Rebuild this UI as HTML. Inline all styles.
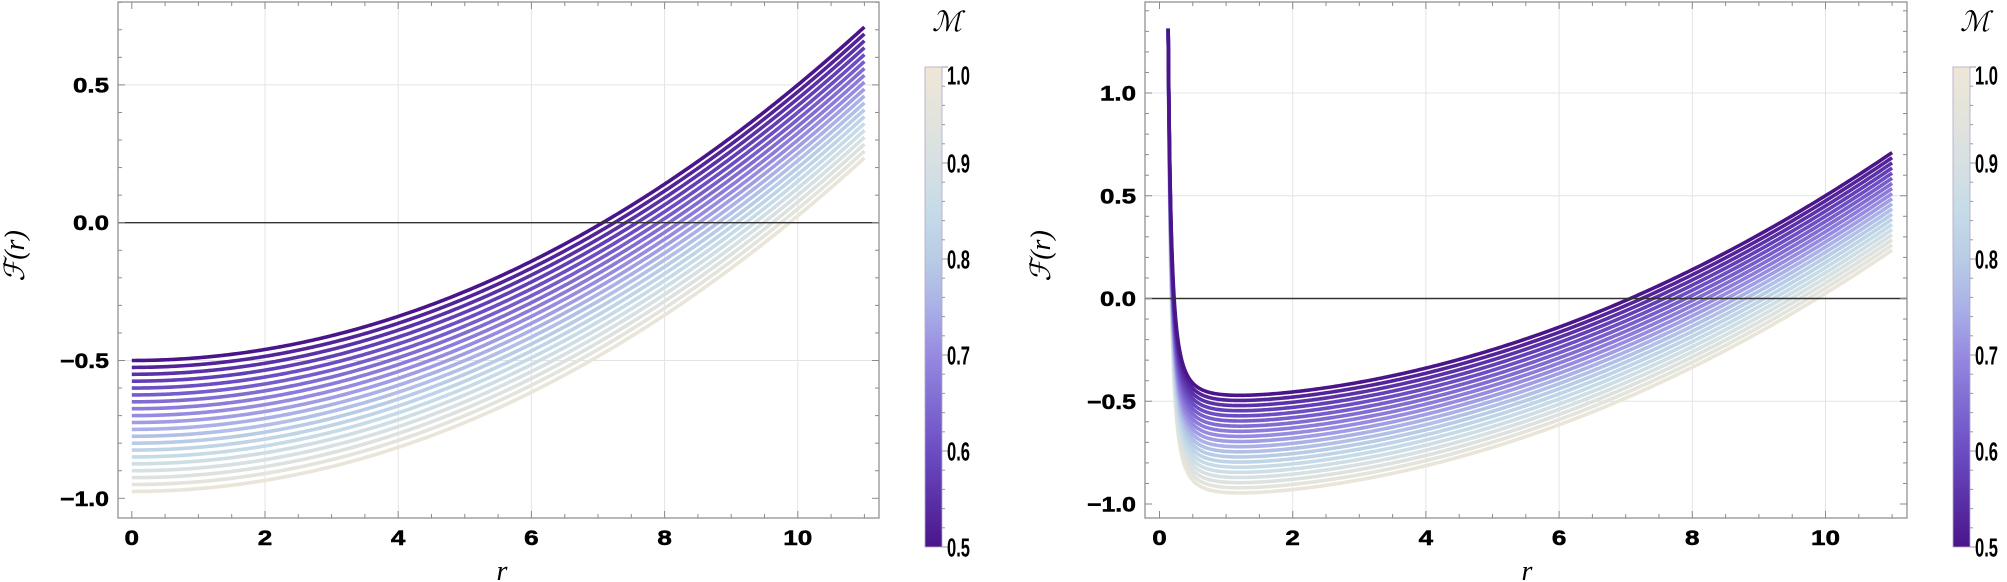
<!DOCTYPE html>
<html><head><meta charset="utf-8">
<style>
html,body{margin:0;padding:0;background:#fff;}
svg{display:block;}
.tl{font-family:"Liberation Sans",sans-serif;font-weight:bold;font-size:21px;fill:#000;stroke:#000;stroke-width:0.5;}
.cb{font-family:"Liberation Sans",sans-serif;font-weight:bold;font-size:26px;fill:#000;}
.ti{font-family:"Liberation Serif","DejaVu Serif",serif;font-style:italic;font-size:28px;fill:#000;}
</style></head>
<body>
<svg id="s" width="2007" height="582" xmlns="http://www.w3.org/2000/svg">
<defs>
<clipPath id="c1"><rect x="118" y="2" width="761" height="516"/></clipPath>
<clipPath id="c2"><rect x="1145" y="2" width="762" height="516"/></clipPath>
<linearGradient id="g" x1="0" y1="1" x2="0" y2="0">
<stop offset="0" stop-color="#4a158b"/>
<stop offset="0.2" stop-color="#6c4dc3"/>
<stop offset="0.4" stop-color="#968ae1"/>
<stop offset="0.5" stop-color="#aab1e7"/>
<stop offset="0.6" stop-color="#b9cce6"/>
<stop offset="0.7" stop-color="#c6dbe8"/>
<stop offset="0.8" stop-color="#d7e0e2"/>
<stop offset="1" stop-color="#efe7d6"/>
</linearGradient>
</defs>
</svg>
<script>
(function(){
var S=document.getElementById('s'),NS='http://www.w3.org/2000/svg';
function el(t,a,txt){var e=document.createElementNS(NS,t);for(var k in a)e.setAttribute(k,a[k]);if(txt!=null)e.textContent=txt;S.appendChild(e);return e;}
var stops=[[0,[74,21,139]],[0.2,[108,77,195]],[0.4,[150,138,225]],[0.5,[170,177,231]],[0.6,[185,204,230]],[0.7,[198,219,232]],[0.8,[215,224,226]],[1,[239,231,214]]];
function col(t){for(var i=1;i<stops.length;i++){if(t<=stops[i][0]){var a=stops[i-1],b=stops[i],u=(t-a[0])/(b[0]-a[0]);return 'rgb('+[0,1,2].map(function(j){return Math.round(a[1][j]+(b[1][j]-a[1][j])*u)}).join(',')+')';}}return 'rgb(239,231,214)';}
function lw(s){var n=0;for(var i=0;i<s.length;i++){var c=s[i];n+=(c=='.')?7:(c=='\u2212'?13:14.5);}return n;}
function plot(o){
 var X=function(r){return o.x0+66.6*r},Y=function(f){return o.y0-o.sy*f};
 var L=o.L,R=o.R,T=2,B=518;
 [2,4,6,8,10].forEach(function(v){el('line',{x1:X(v),x2:X(v),y1:T,y2:B,stroke:'#e4e4e4','stroke-width':1});});
 o.gy.forEach(function(v){el('line',{x1:L,x2:R,y1:Y(v),y2:Y(v),stroke:'#e4e4e4','stroke-width':1});});
 var g=el('g',{'clip-path':'url(#'+o.clip+')'});
 for(var k=19;k>=0;k--){var M=0.5+0.025*k,d='';
  var N=400;for(var i=0;i<=N;i++){var r=o.r0+(11-o.r0)*Math.pow(i/N,o.pw);var f=o.f(r,M);d+=(i?'L':'M')+X(r).toFixed(2)+' '+Y(f).toFixed(2);}
  var p=document.createElementNS(NS,'path');p.setAttribute('d',d);p.setAttribute('fill','none');p.setAttribute('stroke',col((M-0.5)/0.5));p.setAttribute('stroke-width',3.6);g.appendChild(p);}
 el('line',{x1:L,x2:R,y1:Y(0),y2:Y(0),stroke:'#333','stroke-width':1.4});
 el('rect',{x:L,y:T,width:R-L,height:B-T,fill:'none',stroke:'#8a8a8a','stroke-width':1.2});
 for(var v=0;v<=11.01;v+=0.5){var maj=Math.abs(v-Math.round(v/2)*2)<1e-6,len=maj?7:4;
  el('line',{x1:X(v),x2:X(v),y1:B,y2:B-len,stroke:'#8a8a8a'});el('line',{x1:X(v),x2:X(v),y1:T,y2:T+len,stroke:'#8a8a8a'});
  if(maj){var s=''+Math.round(v);el('text',{x:X(v),y:545,'text-anchor':'middle','class':'tl',textLength:lw(s),lengthAdjust:'spacingAndGlyphs'},s);}}
 for(var j=-12;j<=15;j++){var fv=j/10,yy=Y(fv);if(yy<T||yy>B)continue;var maj=(j%5==0),len=maj?7:4;
  el('line',{x1:L,x2:L+len,y1:yy,y2:yy,stroke:'#8a8a8a'});el('line',{x1:R,x2:R-len,y1:yy,y2:yy,stroke:'#8a8a8a'});
  if(maj){var s=(fv<0?'\u2212':'')+Math.abs(fv).toFixed(1);el('text',{x:L-9,y:yy+7.5,'text-anchor':'end','class':'tl',textLength:lw(s),lengthAdjust:'spacingAndGlyphs'},s);}}
 el('text',{x:0,y:0,'class':'ti',transform:'translate('+(o.tx+10)+',256) rotate(-90)','text-anchor':'middle'},'\u2131(r)');
 el('text',{x:o.rx,y:580,'class':'ti','text-anchor':'middle'},'r');
 var cx=o.cx;el('rect',{x:cx,y:67,width:17,height:480,fill:'url(#g)',stroke:'#b0a8c8','stroke-width':0.8});
 for(var q=0;q<=25;q++){var yy=547-q*19.2;el('line',{x1:cx+17,x2:cx+(q%5==0?23:20),y1:yy,y2:yy,stroke:'#999'});}
 for(var q=0;q<=5;q++){var yy=547-q*96;if(q==5)yy=75;var s=(0.5+q*0.1).toFixed(1);
  el('text',{x:cx+22,y:yy+9.5,'class':'cb',textLength:23,lengthAdjust:'spacingAndGlyphs'},s);}
 el('text',{x:cx+22,y:31,'class':'ti','text-anchor':'middle','font-size':'26'},'\u2133');
}
plot({x0:131.8,y0:222.7,sy:275.6,L:118,R:879,gy:[0.5,-0.5],clip:'c1',r0:0,pw:1,
 f:function(r,M){return -M+r*r/100;},tx:14,rx:502,cx:925});
plot({x0:1159.5,y0:298.5,sy:205.5,L:1145,R:1907,gy:[1,0.5,-0.5],clip:'c2',r0:0.13,pw:2.2,
 f:function(r,M){var b=(M+0.088)*0.000286;return -M+r*r/100+0.0207/(r*r)+b/Math.pow(r,4);},tx:1040,rx:1527,cx:1953});
})();
</script>
</body></html>
